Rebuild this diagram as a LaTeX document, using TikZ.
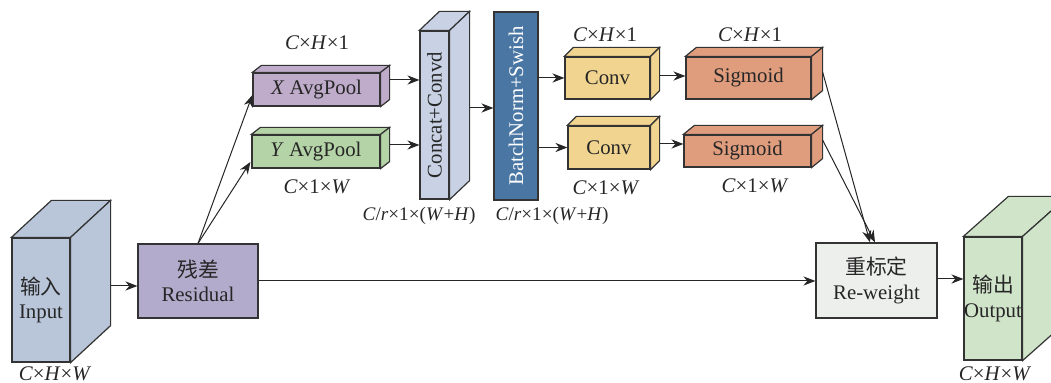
\documentclass[tikz,border=0pt]{standalone}
\usepackage{fontspec}
\setmainfont{Liberation Serif}
\newfontfamily\cjk{Noto Sans CJK SC}
\usetikzlibrary{calc}
\usetikzlibrary{arrows.meta}
\definecolor{inblue}{HTML}{B9C5D9}
\definecolor{respurple}{HTML}{B3ABCB}
\definecolor{xpurple}{HTML}{BFACCA}
\definecolor{ygreen}{HTML}{B4D3A6}
\definecolor{catblue}{HTML}{C8D2E4}
\definecolor{bnblue}{HTML}{4A76A4}
\definecolor{convyellow}{HTML}{F0D490}
\definecolor{sigred}{HTML}{E09D7E}
\definecolor{rwgrey}{HTML}{EDEFED}
\definecolor{outgreen}{HTML}{D0E4CA}
\newcommand{\dims}[3]{\textit{#1}×#2×#3}
\newcommand{\cuboid}[4]{%
	\filldraw[face,fill=#4] (#1.north west) -- ++(#2,#3) --
		($(#1.north east)+(#2,#3)$) -- (#1.north east) -- cycle;
	\filldraw[face,fill=#4] (#1.north east) -- ($(#1.north east)+(#2,#3)$) --
		($(#1.south east)+(#2,#3)$) -- (#1.south east) -- cycle;}
\tikzset{face/.style={draw=black!80,line width=0.6pt},
	blk/.style={face,fill=#1,inner sep=0pt,text=black!85},
	dimlab/.style={inner sep=0pt,text=black!85},
	arr/.style={-{Stealth[length=6pt,width=4.6pt]},line width=0.5pt,black!85}}

\begin{document}
\begin{tikzpicture}[x=0.5pt,y=-0.5pt,font=\fontsize{10.4}{12.2}\selectfont]
	\useasboundingbox (0,0) rectangle (1051,383);
	\clip (0,0) rectangle (1051,383);

		\coordinate (I) at (41,300);
		\coordinate (R) at (198,281);
		\coordinate (PX) at (316.5,89.5);
		\coordinate (PY) at (316,151.5);
		\coordinate (CC) at (434.5,115);
		\coordinate (BN) at (516,106);
		\coordinate (C1) at (607.5,78);
		\coordinate (C2) at (609,147.5);
		\coordinate (S1) at (748.5,78);
		\coordinate (S2) at (747.5,151);
		\coordinate (RW) at (876.5,280.5);
		\coordinate (O) at (993,298.5);

		% blocks
		\node [blk=inblue,minimum width=29pt,minimum height=62pt,align=center] (input) at (I)
			{{\cjk 输入}\\Input};
		\node [blk=respurple,minimum width=60pt,minimum height=37pt,align=center] (residual) at (R)
			{{\cjk 残差}\\Residual};
		\node [blk=xpurple,minimum width=63.5pt,minimum height=16.5pt] (xpool) at (PX)
			{\textit{X} AvgPool};
		\node [blk=ygreen,minimum width=64pt,minimum height=16.5pt] (ypool) at (PY)
			{\textit{Y} AvgPool};
		\node [blk=catblue,minimum width=14.5pt,minimum height=84pt] (concat) at (CC)
			{\rotatebox{90}{Concat+Convd}};
		\node [blk=bnblue,minimum width=22pt,minimum height=94pt,text=white] (bn) at (BN)
			{\rotatebox{90}{BatchNorm+Swish}};
		\node [blk=convyellow,minimum width=42.5pt,minimum height=21pt] (conv1) at (C1) {Conv};
		\node [blk=convyellow,minimum width=41pt,minimum height=21.5pt] (conv2) at (C2) {Conv};
		\node [blk=sigred,minimum width=62.5pt,minimum height=21pt] (sig1) at (S1) {Sigmoid};
		\node [blk=sigred,minimum width=63.5pt,minimum height=16pt] (sig2) at (S2) {Sigmoid};
		\node [blk=rwgrey,minimum width=60.5pt,minimum height=37.5pt,align=center] (reweight) at (RW)
			{{\cjk 重标定}\\Re-weight};
		\node [blk=outgreen,minimum width=29pt,minimum height=61.5pt,align=center] (output) at (O)
			{{\cjk 输出}\\Output};

		\cuboid{input}{40}{-37}{inblue}
		\cuboid{xpool}{9}{-7}{xpurple}
		\cuboid{ypool}{9}{-7}{ygreen}
		\cuboid{concat}{20}{-19}{catblue}
		\cuboid{conv1}{9}{-9}{convyellow}
		\cuboid{conv2}{9}{-9}{convyellow}
		\cuboid{sig1}{11}{-9}{sigred}
		\cuboid{sig2}{11}{-9}{sigred}
		\cuboid{output}{45}{-40}{outgreen}

		% sizes
		\node [dimlab] (inputdim) at (55,374) {\dims{C}{\textit{H}}{\textit{W}}};
		\node [dimlab] (xdim) at (317,43) {\dims{C}{\textit{H}}{1}};
		\node [dimlab] (ydim) at (317,187) {\dims{C}{1}{\textit{W}}};
		\node [dimlab,font=\fontsize{9.6}{11}\selectfont] (catdim) at (419,216)
			{\textit{C}/\textit{r}×1×(\textit{W}+\textit{H})};
		\node [dimlab,font=\fontsize{9.6}{11}\selectfont] (bndim) at (552,216)
			{\textit{C}/\textit{r}×1×(\textit{W}+\textit{H})};
		\node [dimlab] (c1dim) at (605,35) {\dims{C}{\textit{H}}{1}};
		\node [dimlab] (c2dim) at (606,188) {\dims{C}{1}{\textit{W}}};
		\node [dimlab] (s1dim) at (750,35) {\dims{C}{\textit{H}}{1}};
		\node [dimlab] (s2dim) at (755,186) {\dims{C}{1}{\textit{W}}};
		\node [dimlab] (outdim) at (995,374) {\dims{C}{\textit{H}}{\textit{W}}};

		% connections
		\coordinate (inR) at ($(input.east)+(40,-14)$);
		\coordinate (xin) at ($(xpool.west)+(0,5.5)$);
		\coordinate (yin) at ($(ypool.west)+(-1,10.5)$);
		\coordinate (xout) at ($(xpool.east)+(9,-9.5)$);
		\coordinate (yout) at ($(ypool.east)+(9,-6.5)$);
		\coordinate (catout) at ($(concat.east)+(20,-7)$);
		\coordinate (c1out) at ($(conv1.east)+(9,-2)$);
		\coordinate (c2out) at ($(conv2.east)+(9,-3.5)$);
		\coordinate (s1out) at ($(sig1.east)+(11,-6)$);
		\coordinate (s2out) at ($(sig2.east)+(11,-11)$);
		\coordinate (rwin1) at ($(reweight.north)+(-6.5,0)$);
		\coordinate (rwin2) at ($(reweight.north)+(-1.5,0)$);

		\draw [arr] (inR) -- (inR -| residual.west);
		\draw [arr] (residual.north) -- (xin);
		\draw [arr] (residual.north) -- (yin);
		\draw [arr] (xout) -- (xout -| concat.west);
		\draw [arr] (yout) -- (yout -| concat.west);
		\draw [arr] (catout) -- (catout -| bn.west);
		\draw [arr] (bn.east |- conv1.west) -- (conv1.west);
		\draw [arr] (bn.east |- conv2.west) -- (conv2.west);
		\draw [arr] (c1out) -- (c1out -| sig1.west);
		\draw [arr] (c2out) -- (c2out -| sig2.west);
		\draw [arr] (s1out) -- (rwin1);
		\draw [arr] (s2out) -- (rwin2);
		\draw [arr] (residual.east) -- (residual.east -| reweight.west);
		\draw [arr] ($(reweight.east)+(0,-1.5)$) -- ($(reweight.east -| output.west)+(0,-1.5)$);

	\end{tikzpicture}
\end{document}
